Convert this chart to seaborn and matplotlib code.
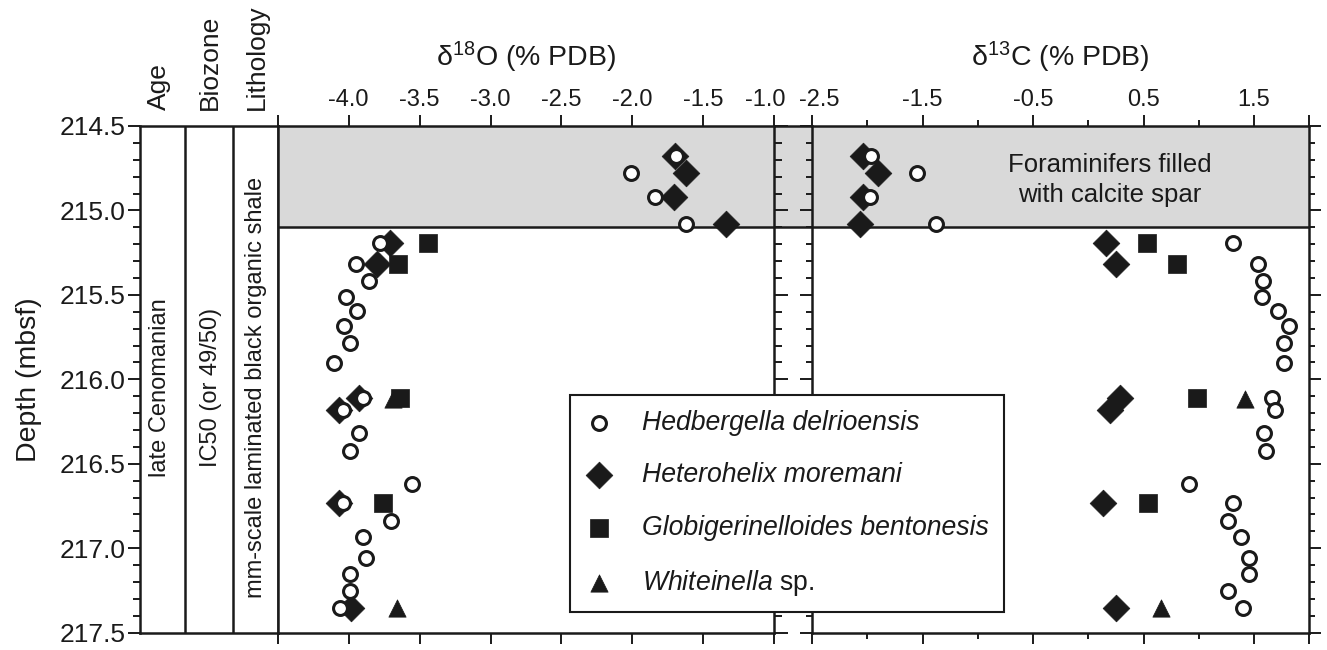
import matplotlib
matplotlib.use("Agg")
import matplotlib.pyplot as plt
from matplotlib.ticker import MultipleLocator
from matplotlib.transforms import blended_transform_factory, ScaledTranslation
import numpy as np
import pandas as pd
import seaborn as sns

# ---------------------------------------------------------------- data
species = ["Hedbergella delrioensis", "Heterohelix moremani",
           "Globigerinelloides bentonesis", "Whiteinella sp."]

hed_depth = [214.68, 214.78, 214.92, 215.08, 215.195, 215.315, 215.415, 215.51,
             215.595, 215.685, 215.785, 215.905, 216.11, 216.18, 216.315, 216.425,
             216.62, 216.73, 216.84, 216.935, 217.055, 217.155, 217.255, 217.355]
hed_d18o = [-1.69, -2.01, -1.84, -1.62, -3.78, -3.95, -3.86, -4.02,
            -3.94, -4.03, -3.99, -4.10, -3.90, -4.04, -3.93, -3.99,
            -3.55, -4.04, -3.70, -3.90, -3.88, -3.99, -3.99, -4.06]
hed_d13c = [-1.97, -1.55, -1.98, -1.38, 1.31, 1.54, 1.58, 1.57,
            1.72, 1.82, 1.77, 1.77, 1.66, 1.69, 1.59, 1.61,
            0.91, 1.31, 1.26, 1.38, 1.45, 1.45, 1.26, 1.40]

het_depth = [214.68, 214.78, 214.92, 215.08, 215.195, 215.315, 216.11, 216.18, 216.73, 217.355]
het_d18o = [-1.70, -1.62, -1.71, -1.34, -3.71, -3.80, -3.93, -4.07, -4.07, -3.98]
het_d13c = [-2.04, -1.90, -2.04, -2.07, 0.16, 0.25, 0.29, 0.20, 0.13, 0.25]

glo_depth = [215.195, 215.315, 216.11, 216.73]
glo_d18o = [-3.44, -3.65, -3.64, -3.76]
glo_d13c = [0.53, 0.80, 0.98, 0.54]

whi_depth = [216.115, 217.355]
whi_d18o = [-3.69, -3.66]
whi_d13c = [1.42, 0.66]

depth_ticks = [214.5, 215.0, 215.5, 216.0, 216.5, 217.0, 217.5]
d18o_ticks = [-4.5, -4.0, -3.5, -3.0, -2.5, -2.0, -1.5, -1.0]
d18o_ticklabels = ["", "-4.0", "-3.5", "-3.0", "-2.5", "-2.0", "-1.5", "-1.0"]
d13c_ticks = [-2.5, -1.5, -0.5, 0.5, 1.5, 2.0]
d13c_ticklabels = ["-2.5", "-1.5", "-0.5", "0.5", "1.5", ""]
d13c_minor_ticks = [-2.0, -1.0, 0.0, 1.0]

spar_top, spar_base = 214.5, 215.1
column_headers = ["Age", "Biozone", "Lithology"]
column_texts = ["late Cenomanian", "IC50 (or 49/50)",
                "mm-scale laminated black organic shale"]
spar_note = "Foraminifers filled\nwith calcite spar"

# ---------------------------------------------------------------- frame
df = pd.concat([
    pd.DataFrame({"species": species[0], "depth": hed_depth, "d18O": hed_d18o, "d13C": hed_d13c}),
    pd.DataFrame({"species": species[1], "depth": het_depth, "d18O": het_d18o, "d13C": het_d13c}),
    pd.DataFrame({"species": species[2], "depth": glo_depth, "d18O": glo_d18o, "d13C": glo_d13c}),
    pd.DataFrame({"species": species[3], "depth": whi_depth, "d18O": whi_d18o, "d13C": whi_d13c}),
], ignore_index=True)

sns.set_theme(style="ticks")
plt.rcParams["font.family"] = ["Liberation Sans", "DejaVu Sans"]
plt.rcParams["mathtext.fontset"] = "custom"
plt.rcParams["mathtext.rm"] = "Liberation Sans"
plt.rcParams["mathtext.it"] = "Liberation Sans:italic"
plt.rcParams["axes.unicode_minus"] = False

INK = "#1a1a1a"
GRAY = "#d9d9d9"
SPINE_W = 1.8
TICK_W = 1.4

W, H = 1327, 650
fig = plt.figure(figsize=(W / 100, H / 100), dpi=100)

top_px, bot_px = 126.0, 632.7


def frac_box(x0, x1):
    return [x0 / W, 1 - bot_px / H, (x1 - x0) / W, (bot_px - top_px) / H]


ax_col = fig.add_axes(frac_box(140.0, 277.7))
ax_gap = fig.add_axes(frac_box(774.3, 812.2))
ax18 = fig.add_axes(frac_box(277.7, 774.3))
ax13 = fig.add_axes(frac_box(812.2, 1309.3))
ax_gap.set_zorder(-1)

for ax in (ax_col, ax18, ax_gap, ax13):
    ax.set_ylim(217.5, 214.5)
    for sp in ax.spines.values():
        sp.set_linewidth(SPINE_W)
        sp.set_color(INK)

# ---------------------------------------------------------------- marker styles
marker_kw = {
    species[3]: dict(marker="^", s=155, color=INK, edgecolor=INK, linewidth=0.5, zorder=3),
    species[2]: dict(marker="s", s=155, color=INK, edgecolor=INK, linewidth=0.5, zorder=4),
    species[1]: dict(marker="D", s=185, color=INK, edgecolor=INK, linewidth=0.5, zorder=5),
    species[0]: dict(marker="o", s=100, color="white", edgecolor=INK, linewidth=2.2, zorder=6),
}
draw_order = [species[3], species[2], species[1], species[0]]

legend_labels = {
    species[0]: "Hedbergella delrioensis",
    species[1]: "Heterohelix moremani",
    species[2]: "Globigerinelloides bentonesis",
    species[3]: r"$\it{Whiteinella}$ sp.",
}

for ax, col in ((ax18, "d18O"), (ax13, "d13C")):
    ax.axhspan(spar_top, spar_base, color=GRAY, zorder=0, lw=0)
    ax.axhline(spar_base, color=INK, lw=SPINE_W, zorder=2)
    for name in draw_order:
        sub = df[df["species"] == name]
        sns.scatterplot(data=sub, x=col, y="depth", ax=ax, legend=False,
                        label=legend_labels[name], **marker_kw[name])
    ax.set_xlabel("")
    ax.set_ylabel("")
    ax.set_ylim(217.5, 214.5)

# ---------------------------------------------------------------- δ18O panel
ax18.set_xlim(-4.5, -1.0)
ax18.set_xticks(d18o_ticks, d18o_ticklabels)
ax18.tick_params(axis="x", which="major", top=True, bottom=True, labeltop=True,
                 labelbottom=False, direction="out", length=8, width=TICK_W,
                 labelsize=17, pad=2.5, color=INK, labelcolor=INK)
ax18.set_yticks(depth_ticks)
ax18.yaxis.set_minor_locator(MultipleLocator(0.1))
ax18.tick_params(axis="y", which="both", left=False, right=True,
                 labelleft=False, labelright=False, direction="out",
                 width=TICK_W, color=INK)
ax18.tick_params(axis="y", which="major", length=10)
ax18.tick_params(axis="y", which="minor", length=5.4)
ax18.text(0.5, 1.117, r"δ$^{18}$O (% PDB)", transform=ax18.transAxes,
          ha="center", va="baseline", fontsize=20.5, color=INK)

# ---------------------------------------------------------------- δ13C panel
ax13.set_xlim(-2.5, 2.0)
ax13.set_xticks(d13c_ticks, d13c_ticklabels)
ax13.set_xticks(d13c_minor_ticks, minor=True)
ax13.tick_params(axis="x", which="both", top=True, bottom=True, labeltop=True,
                 labelbottom=False, direction="out", width=TICK_W,
                 labelsize=17, pad=2.5, color=INK, labelcolor=INK)
ax13.tick_params(axis="x", which="major", length=8)
ax13.tick_params(axis="x", which="minor", length=4.3)
ax13.set_yticks(depth_ticks)
ax13.yaxis.set_minor_locator(MultipleLocator(0.1))
ax13.tick_params(axis="y", which="both", left=True, right=True,
                 labelleft=False, labelright=False, direction="out",
                 width=TICK_W, color=INK)
ax13.tick_params(axis="y", which="major", length=8.6)
ax13.tick_params(axis="y", which="minor", length=4.6)
ax13.text(0.5, 1.117, r"δ$^{13}$C (% PDB)", transform=ax13.transAxes,
          ha="center", va="baseline", fontsize=20.5, color=INK)
ax13.text(0.19, 214.82, spar_note, ha="center", va="center", fontsize=18.5,
          linespacing=1.35, color=INK, zorder=7)

# nudge the two labels that meet at the panel break apart
lab_end = ax18.xaxis.get_major_ticks()[-1].label2
lab_end.set_transform(lab_end.get_transform() + ScaledTranslation(-0.09, 0, fig.dpi_scale_trans))
lab_start = ax13.xaxis.get_major_ticks()[0].label2
lab_start.set_transform(lab_start.get_transform() + ScaledTranslation(0.07, 0, fig.dpi_scale_trans))

# ---------------------------------------------------------------- gap between panels
ax_gap.axis("off")
ax_gap.set_xlim(0, 1)
ax_gap.axhspan(spar_top, spar_base, color=GRAY, lw=0, zorder=0)
ax_gap.axhline(spar_top, color=INK, lw=SPINE_W, clip_on=False)
ax_gap.axhline(spar_base, color=INK, lw=SPINE_W, clip_on=False)

# ---------------------------------------------------------------- descriptive columns
ax_col.set_xlim(0, 1)
ax_col.set_xticks([])
ax_col.set_yticks(depth_ticks, [f"{d:.1f}" for d in depth_ticks])
ax_col.yaxis.set_minor_locator(MultipleLocator(0.1))
ax_col.tick_params(axis="y", which="both", left=True, right=False,
                   direction="out", width=TICK_W, color=INK,
                   labelsize=19, pad=1.5, labelcolor=INK)
ax_col.tick_params(axis="y", which="major", length=8.6)
ax_col.tick_params(axis="y", which="minor", length=5)
ax_col.set_ylabel("Depth (mbsf)", fontsize=20.5, color=INK)
ax_col.yaxis.set_label_coords(-0.714, 0.5)

col_edges = [0.327, 0.678]
for xe in col_edges:
    ax_col.axvline(xe, color=INK, lw=SPINE_W)

mix = blended_transform_factory(ax_col.transAxes, ax_col.transData)
header_x = [0.135, 0.51, 0.85]
text_x = [0.145, 0.516, 0.842]
for hx, tx, head, txt in zip(header_x, text_x, column_headers, column_texts):
    ax_col.text(hx, 1.032, head, transform=ax_col.transAxes, rotation=90,
                ha="center", va="bottom", fontsize=19, color=INK)
    ax_col.text(tx, 216.05, txt, transform=mix, rotation=90,
                ha="center", va="center", fontsize=17, color=INK)

# ---------------------------------------------------------------- legend
h, l = ax18.get_legend_handles_labels()
lookup = dict(zip(l, h))
order = [legend_labels[s] for s in species]
leg = fig.legend([lookup[k] for k in order], order, loc="upper left",
                 bbox_to_anchor=(570 / W, 1 - 395 / H), borderaxespad=0,
                 frameon=True, fancybox=False, framealpha=1, edgecolor=INK,
                 fontsize=19.2, borderpad=0.55, labelspacing=1.0,
                 handlelength=1.05, handletextpad=1.1, scatterpoints=1)
leg.get_frame().set_linewidth(1.5)
for t in leg.get_texts()[:3]:
    t.set_fontstyle("italic")
for t in leg.get_texts():
    t.set_color(INK)

fig.savefig("out.png", dpi=100)
